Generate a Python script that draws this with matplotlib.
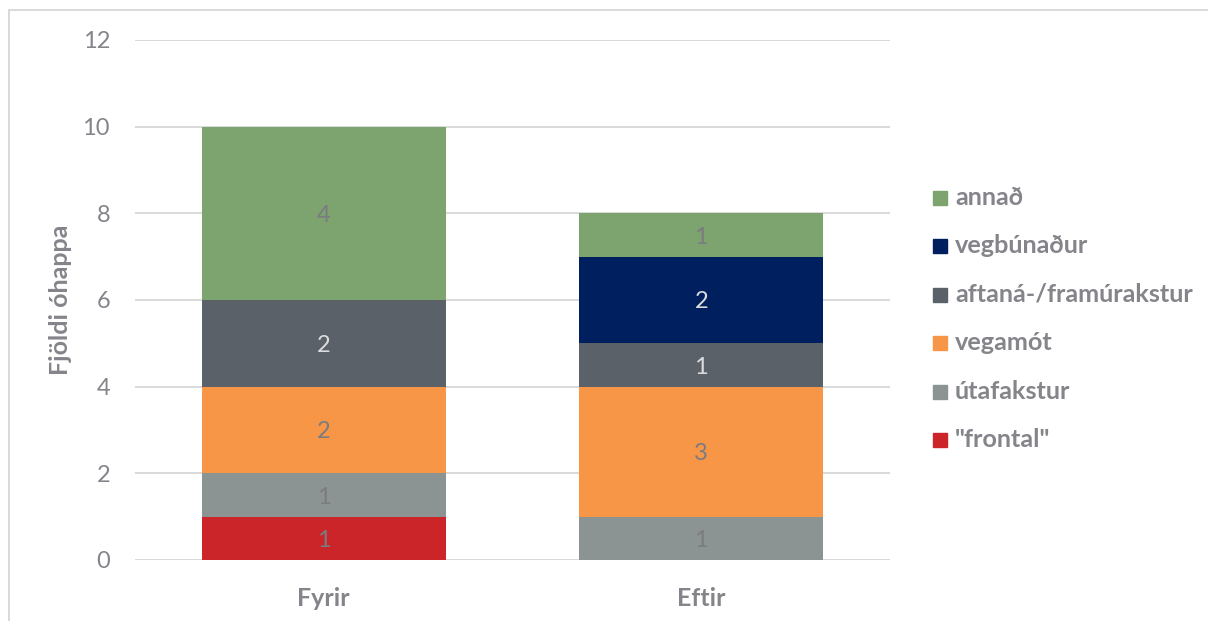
import matplotlib
matplotlib.use("Agg")
import matplotlib.pyplot as plt
from matplotlib.patches import Rectangle
from matplotlib.lines import Line2D
import numpy as np

categories = ["Fyrir", "Eftir"]
series_names = ['"frontal"', "útafakstur", "vegamót", "aftaná-/framúrakstur", "vegbúnaður", "annað"]
frontal = [1, 0]
utafakstur = [1, 1]
vegamot = [2, 3]
aftana = [2, 1]
vegbunadur = [0, 2]
annad = [4, 1]
series_values = [frontal, utafakstur, vegamot, aftana, vegbunadur, annad]
colors = ["#CC2529", "#8C9393", "#F79646", "#5B6168", "#001F5F", "#7DA36E"]
label_colors = ["#7b7b82", "#7b7b82", "#7b7b82", "#dcdcdc", "#dcdcdc", "#7b7b82"]
yticks = [0, 2, 4, 6, 8, 10, 12]

plt.rcParams['font.family'] = ['Lato', 'DejaVu Sans']
txt = "#84848b"
W, H = 1208, 621
PX = 72 / 100  # points per pixel

fig = plt.figure(figsize=(W / 100, H / 100), dpi=100)
ax = fig.add_axes([135 / W, 1 - 560 / H, 755 / W, 520 / H])

x = np.arange(len(categories))
bottom = np.zeros(len(categories))
for name, vals, c, lc in zip(series_names, series_values, colors, label_colors):
    vals = np.array(vals, dtype=float)
    ax.bar(x, vals, 0.646, bottom=bottom, color=c, zorder=3, label=name)
    for xi, v, b in zip(x, vals, bottom):
        if v > 0:
            ax.annotate(f"{int(v)}", xy=(xi, b + v / 2), xytext=(0, -8.5 * PX),
                        textcoords="offset points", ha="center", va="baseline",
                        color=lc, fontsize=17, zorder=4)
    bottom += vals

ax.set_xlim(-0.5, 1.5)
ax.set_ylim(0, 12)
ax.set_yticks(yticks)
ax.set_yticklabels([str(t) for t in yticks], color=txt, fontsize=17)
ax.set_xticks(x)
ax.set_xticklabels(categories, color=txt, fontsize=18, fontweight="bold")
ax.tick_params(axis="both", length=0)
ax.tick_params(axis="y", pad=25 * PX)
ax.tick_params(axis="x", pad=27 * PX)
ax.yaxis.grid(True, color="#d9d9d9", linewidth=1.4, zorder=0)
ax.set_axisbelow(True)
for s in ax.spines.values():
    s.set_visible(False)
ax.set_ylabel("Fjöldi óhappa", color=txt, fontsize=18, fontweight="bold")
ax.yaxis.set_label_coords((72 - 135) / 755, 0.5)

# legend (reverse order, like the reference)
y0, dy = 198, 48.4
for i, (name, c) in enumerate(zip(series_names[::-1], colors[::-1])):
    yc = y0 + i * dy
    fig.patches.append(Rectangle((933 / W, 1 - (yc + 7) / H), 14 / W, 14 / H,
                                 transform=fig.transFigure, color=c))
    fig.text(955 / W, 1 - (yc + 7) / H, name, color=txt, fontsize=18.2,
             fontweight="bold", ha="left", va="baseline")

# chart-area border (left and top edges visible)
fig.add_artist(Line2D([8.5 / W, 8.5 / W], [0, 1 - 9.5 / H], transform=fig.transFigure,
                      color="#d9d9d9", linewidth=1.4))
fig.add_artist(Line2D([8.5 / W, 1], [1 - 9.5 / H, 1 - 9.5 / H], transform=fig.transFigure,
                      color="#d9d9d9", linewidth=1.4))

fig.savefig("out.png", dpi=100)
